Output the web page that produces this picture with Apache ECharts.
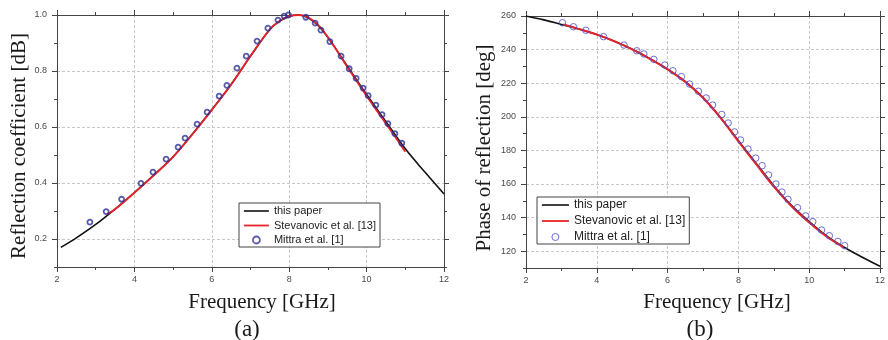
<!DOCTYPE html>
<html>
<head>
<meta charset="utf-8">
<script src="https://cdn.jsdelivr.net/npm/echarts@6/dist/echarts.min.js"></script>
<style>
html,body{margin:0;padding:0;background:#fff;}
#chart{width:888px;height:340px;}
</style>
</head>
<body>
<div id="chart"></div>
<script>
// ---------- Data (a): reflection coefficient ----------
const freqLineA = [2.1, 2.5, 3, 3.5, 4, 4.5, 5, 5.5, 6, 6.5, 7, 7.5, 7.75, 8, 8.25, 8.5, 8.75, 9, 9.25, 9.5, 10, 10.5, 11, 11.5, 12];
const thisPaperA = [0.170, 0.204, 0.252, 0.307, 0.366, 0.428, 0.494, 0.575, 0.662, 0.752, 0.853, 0.948, 0.978, 0.995, 1.000, 0.989, 0.962, 0.920, 0.870, 0.818, 0.716, 0.619, 0.522, 0.440, 0.361];
const freqStevA = [3.3, 3.5, 4, 4.5, 5, 5.5, 6, 6.5, 7, 7.5, 7.75, 8, 8.25, 8.5, 8.75, 9, 9.25, 9.5, 10, 10.5, 11];
const stevanovicA = [0.289, 0.306, 0.365, 0.427, 0.493, 0.574, 0.661, 0.752, 0.854, 0.949, 0.979, 0.996, 1.000, 0.991, 0.964, 0.921, 0.869, 0.815, 0.711, 0.612, 0.512];
const freqMittraA = [2.85, 3.27, 3.67, 4.17, 4.48, 4.82, 5.13, 5.31, 5.62, 5.88, 6.19, 6.39, 6.65, 6.89, 7.17, 7.45, 7.71, 7.87, 7.98, 8.43, 8.67, 8.82, 9.05, 9.34, 9.55, 9.73, 9.91, 10.04, 10.24, 10.40, 10.55, 10.73, 10.91];
const mittraA = [0.260, 0.298, 0.342, 0.399, 0.439, 0.485, 0.528, 0.560, 0.610, 0.653, 0.710, 0.749, 0.810, 0.853, 0.907, 0.953, 0.982, 0.996, 1.000, 0.992, 0.971, 0.946, 0.905, 0.853, 0.808, 0.774, 0.739, 0.712, 0.678, 0.644, 0.612, 0.576, 0.542];

// ---------- Data (b): phase of reflection ----------
const freqLineB = [2, 2.5, 3, 3.5, 4, 4.5, 5, 5.5, 6, 6.5, 7, 7.5, 8, 8.5, 9, 9.5, 10, 10.5, 11, 11.5, 12];
const thisPaperB = [260.0, 257.7, 255.0, 252.3, 249.0, 245.0, 240.2, 234.6, 228.4, 221.0, 211.5, 199.5, 185.8, 172.3, 159.0, 147.3, 137.6, 129.0, 122.2, 116.4, 111.0];
const freqStevB = [3.05, 3.5, 4, 4.5, 5, 5.5, 6, 6.5, 7, 7.5, 8, 8.5, 9, 9.5, 10, 10.5, 10.97];
const stevanovicB = [254.9, 252.2, 248.9, 244.9, 240.1, 234.5, 228.2, 220.8, 211.3, 199.2, 185.4, 171.8, 158.4, 146.8, 137.1, 128.6, 122.3];
const freqMittraB = [3.03, 3.34, 3.69, 4.19, 4.77, 5.13, 5.33, 5.61, 5.92, 6.15, 6.39, 6.62, 6.87, 7.09, 7.27, 7.53, 7.71, 7.89, 8.06, 8.27, 8.49, 8.67, 8.85, 9.06, 9.23, 9.40, 9.67, 9.90, 10.10, 10.35, 10.57, 10.81, 11.00];
const mittraB = [256.0, 253.6, 251.5, 247.7, 242.7, 239.3, 237.4, 234.2, 230.8, 227.4, 223.9, 219.5, 215.2, 211.2, 207.0, 201.4, 196.3, 191.0, 186.2, 180.8, 175.4, 170.9, 165.4, 160.0, 155.2, 150.9, 145.9, 141.0, 137.6, 132.6, 129.2, 125.8, 123.3];

// ---------- Tick labels ----------
const xTicks = [2, 4, 6, 8, 10, 12];
const yTicksA = [0.2, 0.4, 0.6, 0.8, 1.0];
const yTicksB = [120, 140, 160, 180, 200, 220, 240, 260];

// ---------- Text ----------
const seriesNames = ['this paper', 'Stevanovic et al. [13]', 'Mittra et al. [1]'];
const xTitle = 'Frequency [GHz]';
const yTitleA = 'Reflection coefficient [dB]';
const yTitleB = 'Phase of reflection [deg]';
const panelLabels = ['(a)', '(b)'];

const zip = (xs, ys) => xs.map((x, i) => [x, ys[i]]);

const AXIS_COLOR = '#444';
const LABEL_COLOR = '#4a4a4a';
const SANS = '"Liberation Sans", Arial, sans-serif';
const SERIF = '"Liberation Serif", "Times New Roman", serif';

function xAxisPair(grid) {
  const base = {
    type: 'value', gridIndex: grid, min: 2, max: 12, interval: 2,
    axisLine: {show: true, lineStyle: {color: AXIS_COLOR, width: 1}},
    axisTick: {show: true, length: 5, inside: false, lineStyle: {color: AXIS_COLOR}},
    minorTick: {show: true, splitNumber: 2, length: 3, lineStyle: {color: AXIS_COLOR}},
  };
  return [
    Object.assign({}, base, {
      position: 'bottom',
      axisLabel: {show: true, fontSize: 9, color: LABEL_COLOR, fontFamily: SANS, margin: 8,
        customValues: xTicks},
      splitLine: {show: true, lineStyle: {color: '#c9c9c9', type: [3, 2], width: 1}}
    }),
    Object.assign({}, base, {
      position: 'top',
      axisLabel: {show: false},
      splitLine: {show: false}
    })
  ];
}

function yAxes(grid, min, max, ticks, minorInterval, splitNumber) {
  const major = {
    type: 'value', gridIndex: grid, min: min, max: max, splitNumber: splitNumber,
    axisLine: {show: true, lineStyle: {color: AXIS_COLOR, width: 1}},
    axisTick: {show: true, length: 5, inside: false, customValues: ticks, lineStyle: {color: AXIS_COLOR}},
  };
  const minor = {
    type: 'value', gridIndex: grid, min: min, max: max, interval: minorInterval,
    axisLine: {show: false},
    axisTick: {show: true, length: 3, inside: false, lineStyle: {color: AXIS_COLOR}},
    axisLabel: {show: false},
    splitLine: {show: false}
  };
  return [
    Object.assign({}, major, {
      position: 'left',
      axisLabel: {show: true, fontSize: 9, color: LABEL_COLOR, fontFamily: SANS, margin: 10,
        customValues: ticks,
        formatter: v => (grid === 0 ? Number(v).toFixed(1) : String(Math.round(v)))},
      splitLine: {show: true, lineStyle: {color: '#c9c9c9', type: [3, 2], width: 1}}
    }),
    Object.assign({}, minor, {position: 'left'}),
    Object.assign({}, major, {position: 'right', axisLabel: {show: false}, splitLine: {show: false}}),
    Object.assign({}, minor, {position: 'right'})
  ];
}

const chart = echarts.init(document.getElementById('chart'), null, {renderer: 'canvas'});

const option = {
  animation: false,
  backgroundColor: '#fff',
  grid: [
    {left: 57, top: 15, width: 387, height: 252, containLabel: false},
    {left: 526, top: 16, width: 357, height: 252, containLabel: false}
  ],
  xAxis: [].concat(xAxisPair(0), xAxisPair(1)),
  yAxis: [].concat(yAxes(0, 0.1, 1.0, yTicksA, 0.1, 5), yAxes(1, 110, 260, yTicksB, 10, 7)),
  legend: [
    {
      left: 239, top: 203, orient: 'vertical',
      backgroundColor: '#fff', borderColor: '#444', borderWidth: 1,
      padding: [2.5, 4, 1.5, 4], itemGap: 3.5, itemWidth: 25, itemHeight: 7,
      selectedMode: false,
      textStyle: {fontSize: 11, color: '#222', fontFamily: SANS},
      data: [
        {name: seriesNames[0], icon: 'line', itemStyle: {color: '#111', borderColor: '#111', borderWidth: 1.6}},
        {name: seriesNames[1], icon: 'line', itemStyle: {color: '#e8232a', borderColor: '#e8232a', borderWidth: 1.8}},
        {name: seriesNames[2], icon: 'circle', itemStyle: {color: '#fff', borderColor: '#2e3192', borderWidth: 1.8}}
      ]
    },
    {
      left: 537, top: 197, orient: 'vertical',
      backgroundColor: '#fff', borderColor: '#444', borderWidth: 1,
      padding: [2, 4, 1, 4], itemGap: 4, itemWidth: 27, itemHeight: 7,
      selectedMode: false,
      textStyle: {fontSize: 12, color: '#222', fontFamily: SANS},
      data: [
        {name: seriesNames[0], icon: 'line', itemStyle: {color: '#111', borderColor: '#111', borderWidth: 1.6}},
        {name: seriesNames[1], icon: 'line', itemStyle: {color: '#e8232a', borderColor: '#e8232a', borderWidth: 1.8}},
        {name: seriesNames[2], icon: 'circle', itemStyle: {color: '#fff', borderColor: '#4a4ac8', borderWidth: 1}}
      ]
    }
  ],
  series: [
    {name: seriesNames[0], type: 'line', xAxisIndex: 0, yAxisIndex: 0, data: zip(freqLineA, thisPaperA),
      smooth: 0.35, symbol: 'none', lineStyle: {color: '#111', width: 1.6}, itemStyle: {color: '#111'}, z: 2},
    {name: seriesNames[1], type: 'line', xAxisIndex: 0, yAxisIndex: 0, data: zip(freqStevA, stevanovicA),
      smooth: 0.35, symbol: 'none', lineStyle: {color: '#e8232a', width: 1.8}, itemStyle: {color: '#e8232a'}, z: 3},
    {name: seriesNames[2], type: 'scatter', xAxisIndex: 0, yAxisIndex: 0, data: zip(freqMittraA, mittraA),
      symbol: 'circle', symbolSize: 5,
      itemStyle: {color: 'rgba(255,255,255,0)', borderColor: '#2e3192', borderWidth: 1.8}, z: 4},

    {name: seriesNames[0], type: 'line', xAxisIndex: 2, yAxisIndex: 4, data: zip(freqLineB, thisPaperB),
      smooth: 0.35, symbol: 'none', lineStyle: {color: '#111', width: 1.6}, itemStyle: {color: '#111'}, z: 2},
    {name: seriesNames[1], type: 'line', xAxisIndex: 2, yAxisIndex: 4, data: zip(freqStevB, stevanovicB),
      smooth: 0.35, symbol: 'none', lineStyle: {color: '#e8232a', width: 2}, itemStyle: {color: '#e8232a'}, z: 3},
    {name: seriesNames[2], type: 'scatter', xAxisIndex: 2, yAxisIndex: 4, data: zip(freqMittraB, mittraB),
      symbol: 'circle', symbolSize: 6.5,
      itemStyle: {color: 'rgba(255,255,255,0)', borderColor: '#4a4ac8', borderWidth: 1}, z: 4}
  ],
  graphic: [
    {type: 'text', x: 19, y: 146, rotation: Math.PI / 2, z: 10,
      style: {text: yTitleA, font: '21px ' + SERIF, fill: '#1a1a1a', align: 'center', verticalAlign: 'middle'}},
    {type: 'text', x: 484, y: 148, rotation: Math.PI / 2, z: 10,
      style: {text: yTitleB, font: '21px ' + SERIF, fill: '#1a1a1a', align: 'center', verticalAlign: 'middle'}},
    {type: 'text', x: 262, y: 302, z: 10,
      style: {text: xTitle, font: '21px ' + SERIF, fill: '#1a1a1a', align: 'center', verticalAlign: 'middle'}},
    {type: 'text', x: 717, y: 302, z: 10,
      style: {text: xTitle, font: '21px ' + SERIF, fill: '#1a1a1a', align: 'center', verticalAlign: 'middle'}},
    {type: 'text', x: 247, y: 330, z: 10,
      style: {text: panelLabels[0], font: '23px ' + SERIF, fill: '#1a1a1a', align: 'center', verticalAlign: 'middle'}},
    {type: 'text', x: 700, y: 330, z: 10,
      style: {text: panelLabels[1], font: '23px ' + SERIF, fill: '#1a1a1a', align: 'center', verticalAlign: 'middle'}}
  ]
};

chart.setOption(option);
</script>
</body>
</html>
